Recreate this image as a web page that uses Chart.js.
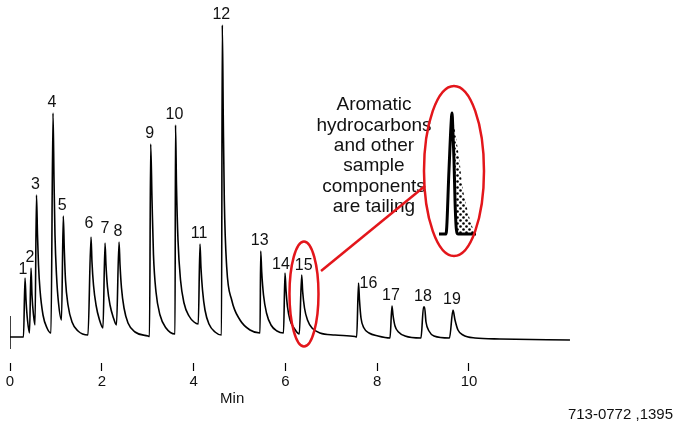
<!DOCTYPE html>
<html>
<head>
<meta charset="utf-8">
<script src="https://cdn.jsdelivr.net/npm/chart.js@4.4.1/dist/chart.umd.min.js"></script>
<style>
  html, body { margin: 0; padding: 0; background: #fff; }
</style>
</head>
<body>
<canvas id="chromChart" width="678" height="427"></canvas>
<script>
// detector trace (time in min, response in arbitrary units)
let traceTime = [
  0, 0.294, 0.327, 0.349, 0.381, 0.425, 0.458, 0.479, 0.512, 0.545,
  0.577, 0.599, 0.621, 0.654, 0.719, 0.806, 0.893, 0.937, 0.959, 0.980,
  1.013, 1.057, 1.122, 1.161, 1.183, 1.209, 1.264, 1.351, 1.481, 1.699,
  1.765, 1.786, 1.819, 1.874, 1.950, 2.026, 2.070, 2.091, 2.124, 2.179,
  2.255, 2.320, 2.375, 2.397, 2.429, 2.484, 2.571, 2.723, 3.007, 3.039,
  3.065, 3.094, 3.126, 3.181, 3.268, 3.399, 3.595, 3.606, 3.627, 3.660,
  3.715, 3.791, 3.900, 4.009, 4.102, 4.139, 4.161, 4.194, 4.248, 4.335,
  4.466, 4.608, 4.625, 4.647, 4.669, 4.721, 4.830, 5.011, 5.229, 5.447,
  5.462, 5.484, 5.523, 5.588, 5.686, 5.817, 5.959, 5.991, 6.013, 6.046,
  6.100, 6.187, 6.303, 6.355, 6.377, 6.416, 6.481, 6.580, 6.754, 7.081,
  7.516, 7.553, 7.593, 7.614, 7.647, 7.712, 7.821, 8.017, 8.279, 8.322,
  8.344, 8.388, 8.464, 8.606, 8.954, 9.009, 9.031, 9.063, 9.128, 9.237,
  9.575, 9.651, 9.695, 9.760, 9.869, 10.131, 10.675, 12.200
];
let traceResp = [
  0, 0, 59, 37, 17, 4, 69, 42, 22, 12,
  142, 102, 72, 47, 22, 9, 4, 224, 157, 102,
  62, 34, 17, 121, 87, 57, 32, 15, 6, 2,
  100, 75, 52, 32, 17, 9, 94, 72, 50, 32,
  19, 12, 95, 72, 49, 29, 14, 5, 1, 0.5,
  193, 137, 82, 45, 22, 9, 3, 212, 152, 97,
  57, 34, 21, 15, 13, 93, 69, 47, 27, 13,
  5, 2, 312, 217, 137, 70, 37, 17, 7, 4,
  86, 65, 42, 24, 12, 6, 4, 64, 47, 30,
  17, 9, 3, 62, 45, 29, 17, 9, 4, 2,
  0.5, 0, 54, 37, 19, 9, 4, 1, -1, 31,
  22, 11, 5, 1, -1, 30, 30, 15, 6, 1,
  -1, 27, 17, 7, 2, -1, -2, -3
];

// injection mark at t = 0
let injectTime = [0, 0];
let injectResp = [21, -12];

// peaks
let peakNumbers = [1, 2, 3, 4, 5, 6, 7, 8, 9, 10, 11, 12, 13, 14, 15, 16, 17, 18, 19];
let peakTimes = [0.327, 0.458, 0.577, 0.937, 1.161, 1.765, 2.070, 2.375, 3.065, 3.606,
                 4.139, 4.625, 5.462, 5.991, 6.355, 7.593, 8.322, 9.020, 9.651];
let peakHeights = [59, 69, 142, 224, 121, 100, 94, 95, 193, 212,
                   93, 312, 86, 64, 62, 54, 31, 30, 27];

// inset: tailing peak sketch
let insetTime = [9.346, 9.499, 9.564, 9.608, 9.630, 9.651, 9.673, 9.695, 9.717, 9.739, 9.760, 10.153];
let insetResp = [103, 103, 167, 212, 224, 204, 177, 137, 112, 104, 103, 103];
let tailTime = [9.630, 9.651, 9.673, 9.695, 9.717, 9.739, 9.760, 9.804, 9.847, 9.891,
                9.934, 9.978, 10.022, 10.065, 10.109, 10.153];
let symResp = [224, 204, 177, 137, 112, 104, 103, 103, 103, 103,
               103, 103, 103, 103, 103, 103];
let tailResp = [224, 218, 212, 206, 200, 193, 187, 172, 154, 142,
                133, 125, 117, 111, 107, 104];

let xTicks = [0, 2, 4, 6, 8, 10];
let calloutLines = ['Aromatic', 'hydrocarbons', 'and other', 'sample', 'components', 'are tailing'];
let axisTitle = 'Min';
let footNote = '713-0772 ,1395';

function zip(xs, ys) {
    return xs.map((x, i) => ({ x: x, y: ys[i] }));
}

function dotPattern() {
    let c = document.createElement('canvas');
    c.width = 6; c.height = 6;
    let g = c.getContext('2d');
    g.fillStyle = '#000';
    g.beginPath(); g.arc(1.5, 1.5, 1.3, 0, Math.PI * 2); g.fill();
    g.beginPath(); g.arc(4.5, 4.5, 1.3, 0, Math.PI * 2); g.fill();
    return document.getElementById('chromChart').getContext('2d').createPattern(c, 'repeat');
}

const RED = '#e3161b';
const FONT = '"Liberation Sans", Arial, sans-serif';

// label nudges (px) for peaks whose number sits off-centre
let nudge = { 1: [-2, -7], 6: [-2, -12], 7: [0, -13], 14: [-4, -7], 15: [2, -8], 16: [10, 2] };

const notes = {
    id: 'notes',
    afterDatasetsDraw(chart) {
        let ctx = chart.ctx;
        let xs = chart.scales.x, ys = chart.scales.y;
        ctx.save();
        ctx.fillStyle = '#111';
        ctx.font = '16px ' + FONT;
        ctx.textAlign = 'center';
        ctx.textBaseline = 'middle';

        peakNumbers.forEach((n, i) => {
            let d = nudge[n] || [-1, -9];
            let px = xs.getPixelForValue(peakTimes[i]) + d[0];
            let py = ys.getPixelForValue(peakHeights[i]) + d[1] - 1;
            ctx.fillText(String(n), px, py);
        });

        // callout text
        ctx.font = '19px ' + FONT;
        let cx = xs.getPixelForValue(7.93);
        let cy = ys.getPixelForValue(232);
        calloutLines.forEach((t, i) => ctx.fillText(t, cx, cy + i * 20.4));

        // axis title and footnote
        ctx.font = '15px ' + FONT;
        ctx.fillText(axisTitle, xs.getPixelForValue(4.84), 399);
        ctx.textAlign = 'right';
        ctx.fillText(footNote, 673, 415);

        // ellipses and connector
        ctx.strokeStyle = RED;
        ctx.lineWidth = 2.5;
        ctx.beginPath();
        ctx.ellipse(xs.getPixelForValue(6.405), ys.getPixelForValue(43), 14.5, 52.5, 0, 0, Math.PI * 2);
        ctx.stroke();
        ctx.beginPath();
        ctx.ellipse(xs.getPixelForValue(9.673), ys.getPixelForValue(166), 30, 85, 0, 0, Math.PI * 2);
        ctx.stroke();
        ctx.beginPath();
        ctx.moveTo(xs.getPixelForValue(6.776), ys.getPixelForValue(66));
        ctx.lineTo(xs.getPixelForValue(9.041), ys.getPixelForValue(151));
        ctx.stroke();
        ctx.restore();
    }
};

let lineBase = {
    borderColor: '#000',
    pointRadius: 0,
    fill: false,
    cubicInterpolationMode: 'monotone'
};

new Chart(document.getElementById('chromChart'), {
    type: 'line',
    data: {
        datasets: [
            Object.assign({}, lineBase, { data: zip(traceTime, traceResp), borderWidth: 1.6 }),
            Object.assign({}, lineBase, { data: zip(injectTime, injectResp), borderWidth: 1.5 }),
            Object.assign({}, lineBase, { data: zip(insetTime, insetResp), borderWidth: 3 }),
            Object.assign({}, lineBase, { data: zip(tailTime, symResp), borderWidth: 0, borderColor: 'rgba(0,0,0,0)' }),
            Object.assign({}, lineBase, {
                data: zip(tailTime, tailResp), borderWidth: 0, borderColor: 'rgba(0,0,0,0)',
                fill: '-1', backgroundColor: dotPattern()
            })
        ]
    },
    plugins: [notes],
    options: {
        responsive: false,
        animation: false,
        layout: { padding: { left: 10, right: 98.84, top: 10, bottom: 0 } },
        plugins: { legend: { display: false }, tooltip: { enabled: false } },
        scales: {
            x: {
                type: 'linear',
                min: 0,
                max: 12.4,
                afterBuildTicks: (s) => { s.ticks = xTicks.map(v => ({ value: v })); },
                afterFit: (s) => { s.height = 64; },
                border: { display: false },
                grid: { drawOnChartArea: false, drawTicks: true, tickLength: 8, tickColor: '#000', tickWidth: 1.2 },
                ticks: { color: '#111', font: { size: 15, family: FONT }, padding: 2, maxRotation: 0 }
            },
            y: {
                display: false,
                min: -26,
                max: 327
            }
        }
    }
});
</script>
</body>
</html>
